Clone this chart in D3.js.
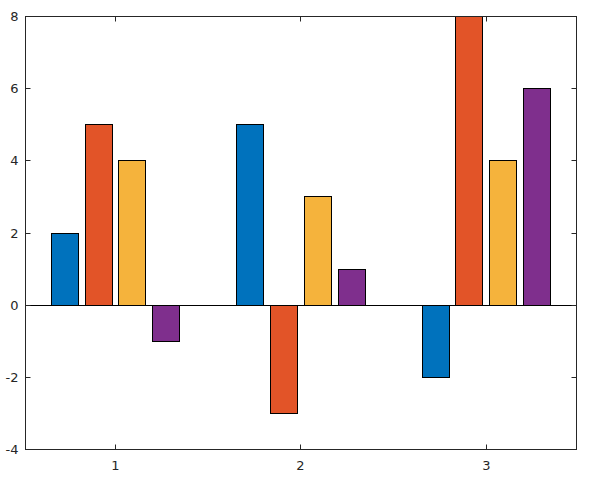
<!DOCTYPE html>
<html>
<head>
<meta charset="utf-8">
<script src="https://cdn.jsdelivr.net/npm/d3@7"></script>
<style>
  body { margin: 0; background: #fff; }
  text { font-family: "DejaVu Sans", sans-serif; font-size: 13px; fill: #262626; }
</style>
</head>
<body>
<div id="chart"></div>
<script>
const categories = [1, 2, 3];
const seriesA = [2, 5, -2];
const seriesB = [5, -3, 8];
const seriesC = [4, 3, 4];
const seriesD = [-1, 1, 6];
const yTicks = [-4, -2, 0, 2, 4, 6, 8];
const colors = ["#0072BD", "#E25428", "#F5B33C", "#7F2F8D"];

const width = 600, height = 480;
const plotL = 25.5, plotR = 576.5, plotT = 16.5, plotB = 449.5;

const svg = d3.select("#chart").append("svg")
  .attr("width", width).attr("height", height);

const x = d3.scaleLinear().domain([0.514, 3.486]).range([plotL, plotR]);
const y = d3.scaleLinear().domain([-4, 8]).range([plotB, plotT]);

const series = [seriesA, seriesB, seriesC, seriesD];
const step = 0.182, barW = 0.146;
const snap = v => Math.round(v - 0.5) + 0.5;

// bars
series.forEach((vals, i) => {
  svg.append("g").selectAll("rect")
    .data(vals)
    .enter().append("rect")
    .attr("x", (d, j) => snap(x(categories[j] + (i - 1.5) * step - barW / 2)))
    .attr("width", Math.round(x(barW) - x(0)))
    .attr("y", d => snap(y(Math.max(0, d))))
    .attr("height", d => snap(y(Math.min(0, d))) - snap(y(Math.max(0, d))))
    .attr("fill", colors[i])
    .attr("stroke", "#000")
    .attr("stroke-width", 1);
});

// baseline
svg.append("line")
  .attr("x1", plotL).attr("x2", plotR)
  .attr("y1", snap(y(0))).attr("y2", snap(y(0)))
  .attr("stroke", "#000").attr("stroke-width", 1);

// box
svg.append("rect")
  .attr("x", plotL).attr("y", plotT)
  .attr("width", plotR - plotL).attr("height", plotB - plotT)
  .attr("fill", "none").attr("stroke", "#262626").attr("stroke-width", 1);

const tl = 5;
// y ticks
yTicks.forEach(t => {
  const yy = snap(y(t));
  svg.append("line").attr("x1", plotL).attr("x2", plotL + tl)
    .attr("y1", yy).attr("y2", yy).attr("stroke", "#262626");
  svg.append("line").attr("x1", plotR - tl).attr("x2", plotR)
    .attr("y1", yy).attr("y2", yy).attr("stroke", "#262626");
  svg.append("text").attr("x", plotL - 7).attr("y", yy)
    .attr("text-anchor", "end").attr("dy", "0.36em")
    .text(t);
});

// x ticks
categories.forEach(c => {
  const xx = snap(x(c));
  svg.append("line").attr("x1", xx).attr("x2", xx)
    .attr("y1", plotB).attr("y2", plotB - tl).attr("stroke", "#262626");
  svg.append("line").attr("x1", xx).attr("x2", xx)
    .attr("y1", plotT).attr("y2", plotT + tl).attr("stroke", "#262626");
  svg.append("text").attr("x", xx).attr("y", plotB + 20)
    .attr("text-anchor", "middle")
    .text(c);
});
</script>
</body>
</html>
